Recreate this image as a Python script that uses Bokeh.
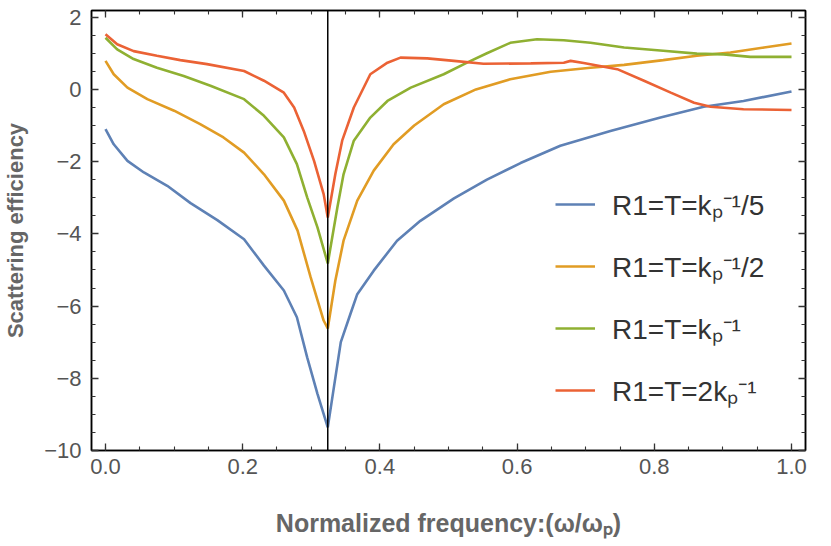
from bokeh.plotting import figure
from bokeh.models import Span, Legend, LegendItem, LinearAxis, FixedTicker, Range1d
from bokeh.embed import file_html
from bokeh.resources import INLINE

# ---- data ----
x_blue = [0.0, 0.012, 0.032, 0.056, 0.09, 0.124, 0.163, 0.202, 0.231, 0.26, 0.279, 0.294, 0.309, 0.324,
          0.343, 0.357, 0.367, 0.391, 0.425, 0.459, 0.508, 0.556, 0.605, 0.663, 0.736, 0.809, 0.872, 0.93, 1.0]
y_blue = [-1.10, -1.52, -1.98, -2.30, -2.67, -3.15, -3.62, -4.15, -4.88, -5.57, -6.31, -7.42, -8.43, -9.36,
          -7.00, -6.22, -5.67, -5.02, -4.19, -3.64, -3.02, -2.50, -2.04, -1.56, -1.15, -0.78, -0.48, -0.32, -0.06]

x_orange = [0.0, 0.012, 0.032, 0.061, 0.1, 0.138, 0.172, 0.202, 0.231, 0.26, 0.28, 0.299, 0.318, 0.324,
            0.335, 0.347, 0.367, 0.391, 0.42, 0.45, 0.493, 0.54, 0.59, 0.649, 0.707, 0.756, 0.813, 0.862,
            0.911, 0.96, 1.0]
y_orange = [0.79, 0.42, 0.05, -0.27, -0.59, -0.96, -1.33, -1.75, -2.35, -3.08, -3.91, -5.2, -6.4, -6.62,
            -5.3, -4.19, -3.08, -2.25, -1.52, -1.0, -0.41, 0.0, 0.28, 0.49, 0.60, 0.68, 0.81, 0.93,
            1.02, 1.16, 1.27]

x_green = [0.0, 0.017, 0.041, 0.075, 0.114, 0.153, 0.202, 0.231, 0.26, 0.279, 0.294, 0.309, 0.324,
           0.338, 0.347, 0.362, 0.386, 0.411, 0.445, 0.493, 0.527, 0.556, 0.59, 0.629, 0.668, 0.707,
           0.756, 0.813, 0.862, 0.901, 0.94, 1.0]
y_green = [1.43, 1.11, 0.84, 0.60, 0.37, 0.10, -0.27, -0.73, -1.33, -2.07, -2.99, -3.82, -4.82,
           -3.27, -2.35, -1.42, -0.78, -0.32, 0.05, 0.42, 0.74, 1.0, 1.29, 1.39, 1.36, 1.29,
           1.16, 1.07, 0.99, 0.97, 0.90, 0.90]

x_red = [0.0, 0.017, 0.041, 0.075, 0.109, 0.148, 0.202, 0.231, 0.26, 0.275, 0.289, 0.304, 0.318, 0.324,
         0.335, 0.345, 0.362, 0.386, 0.411, 0.43, 0.469, 0.508, 0.551, 0.62, 0.668, 0.678, 0.697, 0.746,
         0.785, 0.824, 0.858, 0.882, 0.93, 1.0]
y_red = [1.53, 1.25, 1.06, 0.93, 0.81, 0.70, 0.51, 0.24, -0.09, -0.50, -1.15, -1.98, -2.9, -3.55,
         -2.35, -1.42, -0.50, 0.42, 0.74, 0.88, 0.86, 0.79, 0.71, 0.72, 0.74, 0.79, 0.73, 0.56,
         0.24, -0.09, -0.37, -0.48, -0.55, -0.57]

series_labels = ["R1=T=kₚ⁻¹/5", "R1=T=kₚ⁻¹/2", "R1=T=kₚ⁻¹", "R1=T=2kₚ⁻¹"]
series_colors = ["#5E81B5", "#E19C24", "#8FB032", "#EB6235"]
resonance_x = 0.324

x_ticks = [0.0, 0.2, 0.4, 0.6, 0.8, 1.0]
x_tick_labels = {0.0: "0.0", 0.2: "0.2", 0.4: "0.4", 0.6: "0.6", 0.8: "0.8", 1.0: "1.0"}
x_minor = [round(0.05 * i, 2) for i in range(-1, 22)]
y_ticks = [-10, -8, -6, -4, -2, 0, 2]
y_minor = [-10 + 0.5 * i for i in range(0, 26)]
y_tick_labels = {-10: "−10", -8: "−8", -6: "−6", -4: "−4", -2: "−2", 0: "0", 2: "2"}

x_title = "Normalized frequency:(ω/ωₚ)"
y_title = "Scattering efficiency"

FONT = "Liberation Sans"

p = figure(width=831, height=546, x_range=Range1d(-0.0204, 1.0204), y_range=Range1d(-10, 2.185),
           output_backend="svg", toolbar_location=None,
           min_border_left=91, min_border_right=26, min_border_top=10, min_border_bottom=96)
p.grid.visible = False
p.outline_line_color = "black"
p.outline_line_width = 1.5
p.background_fill_color = "white"
p.border_fill_color = "white"

p.add_layout(LinearAxis(), "above")
p.add_layout(LinearAxis(), "right")


def style_axis(ax, ticks, minor, show_labels):
    ax.ticker = FixedTicker(ticks=ticks, minor_ticks=minor)
    ax.major_tick_in = 7
    ax.major_tick_out = 0
    ax.minor_tick_in = 4
    ax.minor_tick_out = 0
    ax.axis_line_color = "black"
    ax.axis_line_width = 1.5
    ax.major_tick_line_color = "#333333"
    ax.major_tick_line_width = 1.3
    ax.minor_tick_line_color = "#333333"
    ax.minor_tick_line_width = 1.1
    ax.major_label_text_font = FONT
    ax.major_label_text_color = "#555555"
    if show_labels:
        ax.major_label_text_font_size = "22px"
    else:
        ax.major_label_text_font_size = "0px"
        ax.major_label_standoff = 0
        ax.major_label_overrides = {t: "" for t in ticks}


for ax in p.below:
    style_axis(ax, x_ticks, x_minor, True)
    ax.major_label_standoff = 8
    ax.major_label_overrides = x_tick_labels
    ax.axis_label = x_title
    ax.axis_label_standoff = 32
    ax.axis_label_text_font_size = "25px"
for ax in p.above:
    style_axis(ax, x_ticks, x_minor, False)
for ax in p.left:
    style_axis(ax, y_ticks, y_minor, True)
    ax.major_label_standoff = 10
    ax.major_label_overrides = y_tick_labels
    ax.axis_label = y_title
    ax.axis_label_standoff = 13
    ax.axis_label_text_font_size = "22px"
for ax in p.right:
    style_axis(ax, y_ticks, y_minor, False)

for ax in p.below + p.left:
    ax.axis_label_text_font = FONT
    ax.axis_label_text_font_style = "bold"
    ax.axis_label_text_color = "#666666"

p.add_layout(Span(location=resonance_x, dimension="height", line_color="black", line_width=1.5))

xs = [x_blue, x_orange, x_green, x_red]
ys = [y_blue, y_orange, y_green, y_red]
items = []
for x, y, c, lab in zip(xs, ys, series_colors, series_labels):
    r = p.line(x, y, line_color=c, line_width=2.6)
    items.append(LegendItem(label=lab, renderers=[r]))

legend = Legend(items=items, location=(464, 41))
legend.border_line_color = None
legend.background_fill_alpha = 0
legend.label_text_font = FONT
legend.label_text_font_size = "28px"
legend.label_text_color = "#333333"
legend.glyph_width = 40
legend.glyph_height = 30
legend.label_height = 30
legend.label_standoff = 17
legend.spacing = 24
legend.padding = 0
legend.margin = 0
p.add_layout(legend)

open("out.html", "w").write(file_html(p, INLINE))
